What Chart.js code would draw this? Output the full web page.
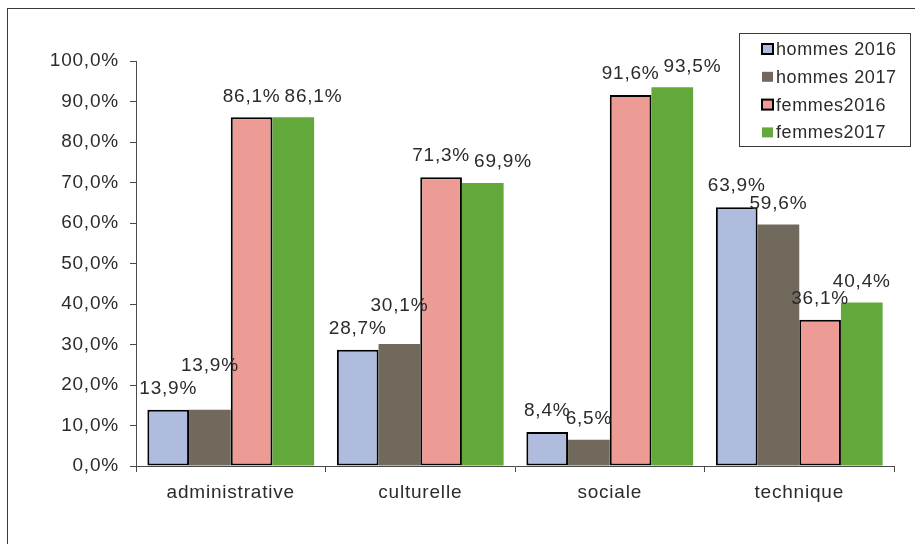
<!DOCTYPE html>
<html>
<head>
<meta charset="utf-8">
<script src="https://cdn.jsdelivr.net/npm/chart.js@4.4.1/dist/chart.umd.min.js"></script>
<style>
  html, body { margin: 0; padding: 0; background: #fff; }
  #wrap { width: 915px; height: 544px; position: relative; }
</style>
</head>
<body>
<div id="wrap"><canvas id="c" width="915" height="544"></canvas></div>
<script>
const categories = ['administrative', 'culturelle', 'sociale', 'technique'];
const seriesNames = ['hommes 2016', 'hommes 2017', 'femmes2016', 'femmes2017'];
const hommes2016 = [13.9, 28.7, 8.4, 63.9];
const hommes2017 = [13.9, 30.1, 6.5, 59.6];
const femmes2016 = [86.1, 71.3, 91.6, 36.1];
const femmes2017 = [86.1, 69.9, 93.5, 40.4];
const yTicks = [0, 10, 20, 30, 40, 50, 60, 70, 80, 90, 100];

const fillColors = ['#B0BCDD', '#716A5C', '#EC9C95', '#63A83B'];
const borderWidths = [2, 0, 2, 0];
// how a label that collides with the previous one is moved: 'lift' up, 'shift' right
const labelResolve = ['none', 'lift', 'none', 'shift'];
const FONT = '"Liberation Sans", Arial, sans-serif';
const TEXT = '#2b2b2b';
const fmt = v => v.toFixed(1).replace('.', ',') + '%';

const seriesValues = [hommes2016, hommes2017, femmes2016, femmes2017];

const spacing = {
  id: 'spacing',
  beforeDraw(chart) {
    const ctx = chart.ctx;
    ctx.letterSpacing = '0.8px';
    ctx.save();
    ctx.fillStyle = '#fff';
    ctx.fillRect(0, 0, chart.width, chart.height);
    ctx.strokeStyle = '#3a3a3a';
    ctx.lineWidth = 1;
    ctx.strokeRect(7.5, 8.5, 1000, 1000);
    ctx.restore();
  }
};

const dataLabels = {
  id: 'dataLabels',
  afterDatasetsDraw(chart) {
    const ctx = chart.ctx;
    ctx.save();
    ctx.letterSpacing = '0.8px';
    ctx.font = '19px ' + FONT;
    ctx.fillStyle = TEXT;
    ctx.textAlign = 'center';
    ctx.textBaseline = 'middle';
    const h = 17;
    const nCat = categories.length;
    for (let c = 0; c < nCat; c++) {
      let prev = null;
      chart.data.datasets.forEach((ds, di) => {
        const el = chart.getDatasetMeta(di).data[c];
        const txt = fmt(ds.data[c]);
        const w = ctx.measureText(txt).width;
        let x = el.x;
        let y = el.y - 21;
        if (prev && labelResolve[di] !== 'none') {
          const hov = Math.min(x + w / 2, prev.x + prev.w / 2) - Math.max(x - w / 2, prev.x - prev.w / 2);
          if (hov > 8 && Math.abs(y - prev.y) < h) {
            if (labelResolve[di] === 'lift') y = prev.y - 23;
            else x += hov + 4;
          }
        }
        prev = { x, y, w };
        ctx.fillText(txt, x, y);
      });
    }
    ctx.restore();
  }
};

const boxLegend = {
  id: 'boxLegend',
  afterDraw(chart) {
    const ctx = chart.ctx;
    ctx.save();
    ctx.letterSpacing = '0.6px';
    const bx = 739.5, by = 33.5, bw = 171, bh = 113;
    ctx.fillStyle = '#fff';
    ctx.fillRect(bx, by, bw, bh);
    ctx.strokeStyle = '#3a3a3a';
    ctx.lineWidth = 1;
    ctx.strokeRect(bx, by, bw, bh);
    ctx.font = '18px ' + FONT;
    ctx.textAlign = 'left';
    ctx.textBaseline = 'middle';
    chart.data.datasets.forEach((ds, i) => {
      const cy = 49 + i * 27.8;
      ctx.fillStyle = ds.backgroundColor;
      ctx.fillRect(762, cy - 5, 11, 10);
      if (ds.borderWidth > 0) {
        ctx.strokeStyle = '#000';
        ctx.lineWidth = 2;
        ctx.strokeRect(762, cy - 5, 11, 10);
      }
      ctx.fillStyle = TEXT;
      ctx.fillText(ds.label, 776, cy + 1);
    });
    ctx.restore();
  }
};

new Chart(document.getElementById('c'), {
  type: 'bar',
  data: {
    labels: categories,
    datasets: seriesNames.map((name, i) => ({
      label: name,
      data: seriesValues[i],
      backgroundColor: fillColors[i],
      borderColor: '#000',
      borderWidth: borderWidths[i],
      borderSkipped: false,
      categoryPercentage: 0.88,
      barPercentage: 1.0
    }))
  },
  options: {
    responsive: false,
    animation: false,
    devicePixelRatio: 1,
    layout: { padding: { top: 61, right: 21, bottom: 0, left: 0 } },
    plugins: {
      legend: { display: false },
      tooltip: { enabled: false }
    },
    scales: {
      x: {
        offset: true,
        grid: { display: true, drawOnChartArea: false, drawTicks: true, tickLength: 6, color: '#4a4a4a', offset: true },
        border: { display: true, color: '#4a4a4a', width: 1 },
        ticks: { color: TEXT, font: { family: FONT, size: 19 }, padding: 9 },
        afterFit(scale) { scale.height = 78; }
      },
      y: {
        min: 0,
        max: 100,
        afterBuildTicks(scale) { scale.ticks = yTicks.map(v => ({ value: v })); },
        grid: { display: true, drawOnChartArea: false, drawTicks: true, tickLength: 6, color: '#4a4a4a' },
        border: { display: true, color: '#4a4a4a', width: 1 },
        ticks: { color: TEXT, font: { family: FONT, size: 19 }, padding: 11, callback: v => fmt(v) },
        afterFit(scale) { scale.width = 136; }
      }
    }
  },
  plugins: [spacing, dataLabels, boxLegend]
});
</script>
</body>
</html>
